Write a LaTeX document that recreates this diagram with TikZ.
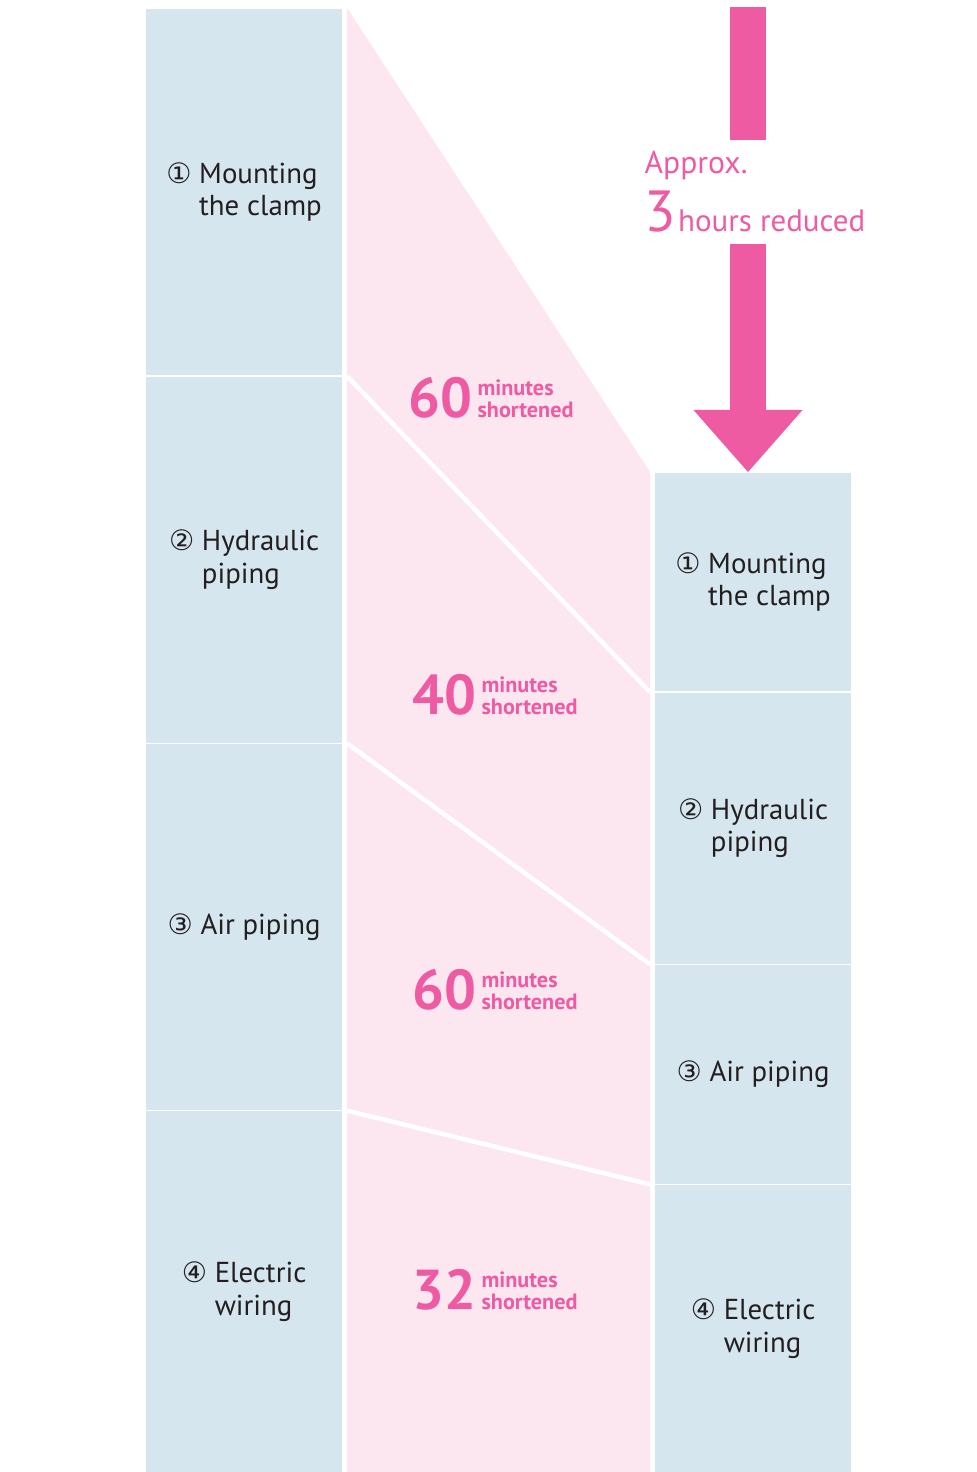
\documentclass[tikz,border=0pt]{standalone}
\usepackage{fontspec}
\setmainfont{PT Sans}
\newfontfamily\circfont{DejaVu Sans}
\usepackage{xcolor}
\usetikzlibrary{arrows.meta, positioning, calc}

\definecolor{stepblue}{HTML}{D6E6EF}
\definecolor{cutpink}{HTML}{FCE6EF}
\definecolor{hotpink}{HTML}{EE5BA2}
\definecolor{textgray}{HTML}{231F20}

\newcommand{\circnum}[1]{{\circfont\fontsize{8pt}{8pt}\selectfont #1}}
\newcommand{\steptext}[3]{\circnum{#1} #2\\\phantom{\circnum{#1} }#3}
\newcommand{\cutlabel}[1]{{\fontsize{16pt}{16pt}\selectfont\bfseries #1}\hspace{1.5pt}{\fontsize{6.3pt}{6.1pt}\selectfont\bfseries\begin{tabular}[b]{@{}l@{}}minutes\\shortened\end{tabular}}}

\begin{document}
\begin{tikzpicture}[x=0.01cm, y=-0.01cm,
    stepbox/.style={rectangle, draw=white, line width=0.015cm, fill=stepblue, minimum width=1.98cm, inner sep=0pt, outer sep=0pt, align=left, text=textgray, font=\fontsize{8.2pt}{9.3pt}\selectfont},
    cutline/.style={draw=white, line width=0.045cm},
    cuttext/.style={text=hotpink, inner sep=0pt},
    shaft/.style={draw=hotpink, line width=0.35cm}]

    \useasboundingbox (0,0) rectangle (977,1472);

    % before: left column
    \node (l1) [stepbox, anchor=north west, minimum height=3.68cm] at (145,8) {\steptext{①}{Mounting}{the clamp}};
    \node (l2) [stepbox, below=0pt of l1, minimum height=3.67cm] {\steptext{②}{Hydraulic}{piping}};
    \node (l3) [stepbox, below=0pt of l2, minimum height=3.67cm] {\circnum{③} Air piping};
    \node (l4) [stepbox, below=0pt of l3, minimum height=3.62cm] {\steptext{④}{Electric}{wiring}};

    % after: right column
    \node (r1) [stepbox, anchor=north west, minimum height=2.20cm] at (654,472) {\steptext{①}{Mounting}{the clamp}};
    \node (r2) [stepbox, below=0pt of r1, minimum height=2.72cm] {\steptext{②}{Hydraulic}{piping}};
    \node (r3) [stepbox, below=0pt of r2, minimum height=2.20cm] {\circnum{③} Air piping};
    \node (r4) [stepbox, below=0pt of r3, minimum height=2.88cm] {\steptext{④}{Electric}{wiring}};

    % shortened band
    \fill[cutpink] ($(l1.north east)+(4,0)$) -- ($(r1.north west)+(-4,0)$) -- ($(r4.south west)+(-4,0)$) -- ($(l4.south east)+(4,0)$) -- cycle;
    \draw[cutline] ($(l1.south east)+(4,0)$) -- ($(r1.south west)+(-4,0)$);
    \draw[cutline] ($(l2.south east)+(4,0)$) -- ($(r2.south west)+(-4,0)$);
    \draw[cutline] ($(l3.south east)+(4,0)$) -- ($(r3.south west)+(-4,0)$);

    \node (cut1) [cuttext] at (491,401) {\cutlabel{60}};
    \node (cut2) [cuttext] at (495,698) {\cutlabel{40}};
    \node (cut3) [cuttext] at (495,993) {\cutlabel{60}};
    \node (cut4) [cuttext] at (495,1293) {\cutlabel{32}};

    % total reduction arrow
    \node (reduced) [cuttext, anchor=north west, align=left, font=\fontsize{9pt}{16.5pt}\selectfont] at (644,150) {Approx.\\{\fontsize{16.5pt}{16.5pt}\selectfont 3}\hspace{0.5pt}{\fontsize{8.8pt}{8.8pt}\selectfont hours reduced}};
    \coordinate (arrtop) at (748,7);
    \coordinate (shaftend) at (748,140);
    \coordinate (shaftstart) at (748,244);
    \draw[shaft] (arrtop) -- (shaftend);
    \draw[shaft, -{Triangle[length=0.62cm, width=1.09cm, line width=0pt]}] (shaftstart) -- (shaftstart |- r1.north);

\end{tikzpicture}
\end{document}
